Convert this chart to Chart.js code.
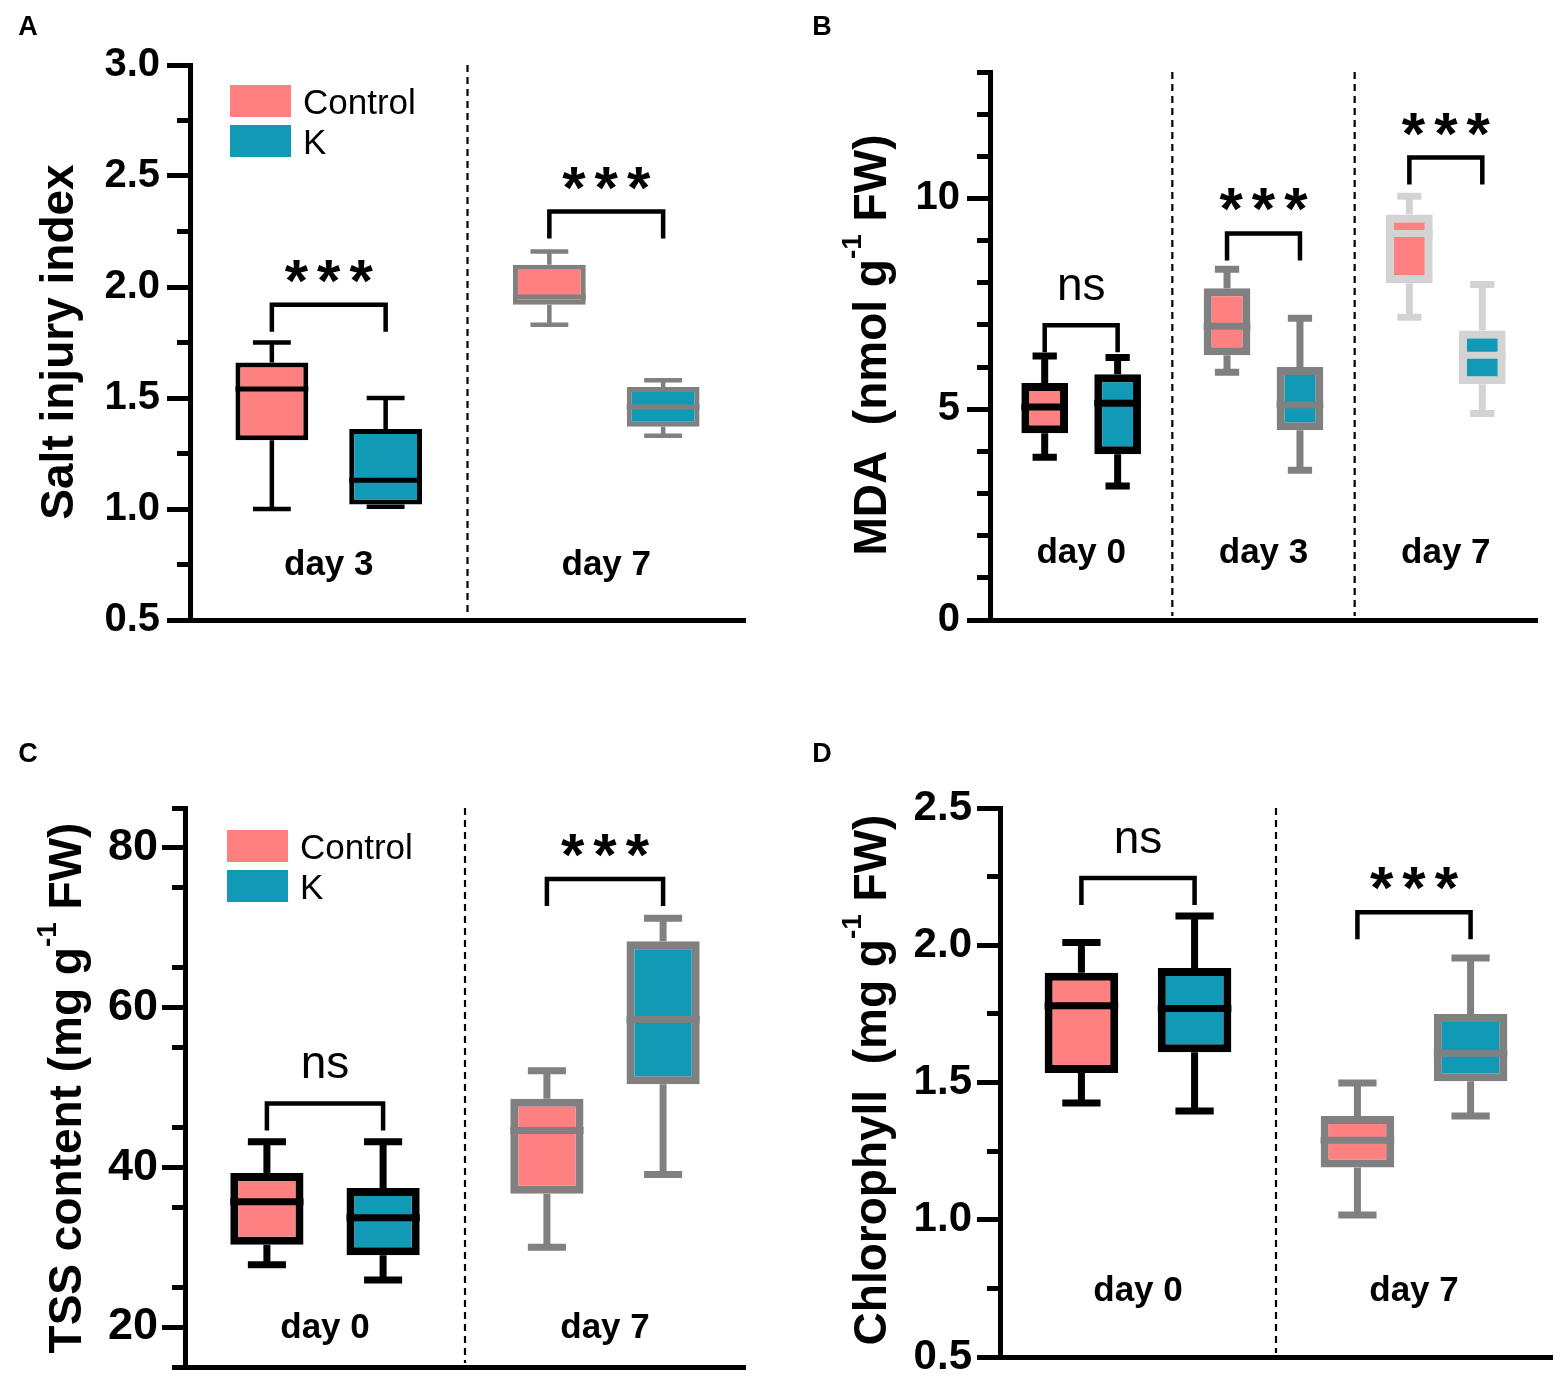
<!DOCTYPE html>
<html>
<head>
<meta charset="utf-8">
<script src="https://cdn.jsdelivr.net/npm/chart.js@4.4.0/dist/chart.umd.min.js"></script>
<style>
  body { margin: 0; background: #fff; width: 1562px; height: 1379px; position: relative; overflow: hidden; }
  canvas { position: absolute; }
</style>
</head>
<body>
<canvas id="cA" width="781" height="690" style="left:0;top:0"></canvas>
<canvas id="cB" width="781" height="690" style="left:781px;top:0"></canvas>
<canvas id="cC" width="781" height="720" style="left:0;top:690px"></canvas>
<canvas id="cD" width="781" height="720" style="left:781px;top:690px"></canvas>
<script>
// series shared by all four panels
const seriesNames = ['Control', 'K'];
const seriesFills = ['#FF8080', '#1199B5'];

// each box: [min, q1, median, q3, max]
const daysA = ['day 3', 'day 7'];
const controlA = [[1.00, 1.31, 1.54, 1.66, 1.75], [1.83, 1.92, 1.955, 2.10, 2.16]];
const kA = [[1.01, 1.02, 1.13, 1.36, 1.50], [1.33, 1.37, 1.46, 1.55, 1.58]];
const sigA = ['***', '***'];
const bracketA = [1.92, 2.34];

const daysB = ['day 0', 'day 3', 'day 7'];
const controlB = [[3.86, 4.43, 5.05, 5.62, 6.26], [5.88, 6.28, 6.97, 7.87, 8.32], [7.18, 7.99, 9.17, 9.62, 10.05]];
const kB = [[3.18, 3.93, 5.14, 5.83, 6.23], [3.55, 4.50, 5.10, 6.00, 7.16], [4.90, 5.59, 6.28, 6.87, 7.96]];
const sigB = ['ns', '***', '***'];
const bracketB = [6.99, 9.17, 10.97];

const daysC = ['day 0', 'day 7'];
const controlC = [[27.8, 30.3, 35.7, 39.3, 43.2], [30.0, 36.7, 44.6, 48.6, 52.1]];
const kC = [[25.9, 29.0, 33.7, 37.4, 43.2], [39.1, 50.4, 58.5, 68.3, 71.2]];
const sigC = ['ns', '***'];
const bracketC = [48.0, 76.1];

const daysD = ['day 0', 'day 7'];
const controlD = [[1.425, 1.535, 1.78, 1.90, 2.01], [1.017, 1.19, 1.29, 1.378, 1.498]];
const kD = [[1.396, 1.61, 1.77, 1.917, 2.107], [1.378, 1.505, 1.607, 1.75, 1.954]];
const sigD = ['ns', '***'];
const bracketD = [2.245, 2.12];

Chart.defaults.font.family = '"Liberation Sans", Arial, sans-serif';
Chart.defaults.color = '#000';

const FONT = '"Liberation Sans", Arial, sans-serif';

// whiskers, medians, separators, brackets, legend, titles
const boxPlot = {
  id: 'boxPlot',
  beforeDatasetsDraw(chart, args, o) {
    const ctx = chart.ctx, ys = chart.scales.y, xs = chart.scales.x, area = chart.chartArea;
    ctx.save();
    // dashed separators between days
    ctx.strokeStyle = '#000';
    ctx.lineWidth = 2.2;
    ctx.setLineDash([7, 5]);
    for (let i = 0; i < chart.data.labels.length - 1; i++) {
      const x = (xs.getPixelForValue(i) + xs.getPixelForValue(i + 1)) / 2;
      ctx.beginPath();
      ctx.moveTo(x, area.top);
      ctx.lineTo(x, area.bottom - 4);
      ctx.stroke();
    }
    ctx.setLineDash([]);
    // whiskers
    ctx.lineCap = 'butt';
    chart.data.datasets.forEach((ds, d) => {
      chart.getDatasetMeta(d).data.forEach((bar, i) => {
        const s = o.stats[d][i];
        const cap = bar.width * 0.52;
        const yMin = ys.getPixelForValue(s[0]), yQ1 = ys.getPixelForValue(s[1]);
        const yQ3 = ys.getPixelForValue(s[3]), yMax = ys.getPixelForValue(s[4]);
        ctx.strokeStyle = o.lineColors[i];
        ctx.lineWidth = o.whisker;
        ctx.beginPath();
        ctx.moveTo(bar.x, yQ3); ctx.lineTo(bar.x, yMax);
        ctx.moveTo(bar.x, yQ1); ctx.lineTo(bar.x, yMin);
        ctx.moveTo(bar.x - cap / 2, yMax); ctx.lineTo(bar.x + cap / 2, yMax);
        ctx.moveTo(bar.x - cap / 2, yMin); ctx.lineTo(bar.x + cap / 2, yMin);
        ctx.stroke();
      });
    });
    ctx.restore();
  },
  afterDatasetsDraw(chart, args, o) {
    const ctx = chart.ctx, ys = chart.scales.y;
    ctx.save();
    chart.data.datasets.forEach((ds, d) => {
      chart.getDatasetMeta(d).data.forEach((bar, i) => {
        const y = ys.getPixelForValue(o.stats[d][i][2]);
        ctx.strokeStyle = o.lineColors[i];
        ctx.lineWidth = o.median;
        ctx.beginPath();
        ctx.moveTo(bar.x - bar.width / 2, y);
        ctx.lineTo(bar.x + bar.width / 2, y);
        ctx.stroke();
      });
    });
    ctx.restore();
  },
  afterDraw(chart, args, o) {
    const ctx = chart.ctx, ys = chart.scales.y;
    const m0 = chart.getDatasetMeta(0).data, m1 = chart.getDatasetMeta(1).data;
    ctx.save();
    // significance brackets
    ctx.strokeStyle = '#000';
    ctx.fillStyle = '#000';
    ctx.lineWidth = 4.5;
    ctx.lineJoin = 'miter';
    ctx.textAlign = 'center';
    ctx.textBaseline = 'alphabetic';
    o.sig.forEach((txt, i) => {
      const xl = m0[i].x, xr = m1[i].x, y = ys.getPixelForValue(o.bracket[i]);
      ctx.beginPath();
      ctx.moveTo(xl, y + 27); ctx.lineTo(xl, y); ctx.lineTo(xr, y); ctx.lineTo(xr, y + 27);
      ctx.stroke();
      const cy = y - 37;
      if (txt === 'ns') {
        ctx.font = '46px ' + FONT;
        ctx.letterSpacing = '0px';
        ctx.fillText(txt, (xl + xr) / 2, cy + 12);
      } else {
        ctx.font = 'bold 60px ' + FONT;
        ctx.letterSpacing = '9px';
        ctx.fillText(txt, (xl + xr) / 2 + 4.5, cy + 33);
      }
    });
    ctx.letterSpacing = '0px';
    // legend inside plot
    if (o.legend) {
      ctx.font = '35px ' + FONT;
      ctx.textAlign = 'left';
      ctx.textBaseline = 'middle';
      chart.data.datasets.forEach((ds, d) => {
        const y = o.legend[1] + d * 40;
        ctx.fillStyle = ds.backgroundColor;
        ctx.fillRect(o.legend[0], y, 61, 32);
        ctx.fillStyle = '#000';
        ctx.fillText(ds.label, o.legend[0] + 73, y + 19);
      });
    }
    // y axis title with superscript parts
    const size = 46;
    ctx.translate(o.titlePos[0], o.titlePos[1]);
    ctx.rotate(-Math.PI / 2);
    ctx.textAlign = 'left';
    ctx.textBaseline = 'middle';
    ctx.fillStyle = '#000';
    const fontFor = sup => 'bold ' + (sup ? Math.round(size * 0.6) : size) + 'px ' + FONT;
    let total = 0;
    o.title.forEach(([t, sup]) => { ctx.font = fontFor(sup); total += ctx.measureText(t).width; });
    let x = -total / 2;
    o.title.forEach(([t, sup]) => {
      ctx.font = fontFor(sup);
      ctx.fillText(t, x, sup ? -size * 0.42 : 0);
      x += ctx.measureText(t).width;
    });
    ctx.setTransform(1, 0, 0, 1, 0, 0);
    // panel letter
    ctx.font = 'bold 27px ' + FONT;
    ctx.textAlign = 'center';
    ctx.fillText(o.letter, o.letterPos[0], o.letterPos[1]);
    ctx.restore();
  }
};

function makePanel(id, p) {
  const canvas = document.getElementById(id);
  const W = canvas.width, H = canvas.height;
  const a = p.area;
  return new Chart(canvas, {
    type: 'bar',
    data: {
      labels: p.days,
      datasets: seriesNames.map((name, d) => ({
        label: name,
        data: p.stats[d].map(s => [s[1], s[3]]),
        backgroundColor: seriesFills[d],
        borderColor: p.lineColors,
        borderWidth: p.border,
        borderSkipped: false,
        barPercentage: p.barPct,
        categoryPercentage: p.catPct
      }))
    },
    options: {
      responsive: false,
      animation: false,
      layout: { padding: { left: 0, top: a.top, right: W - a.right, bottom: 0 } },
      plugins: {
        legend: { display: false },
        tooltip: { enabled: false },
        boxPlot: {
          stats: p.stats, lineColors: p.lineColors, whisker: p.whisker, median: p.median,
          sig: p.sig, bracket: p.bracket, legend: p.legend, title: p.title,
          titlePos: p.titlePos, letter: p.letter, letterPos: p.letterPos
        }
      },
      scales: {
        x: {
          type: 'category',
          grid: { display: false, drawTicks: false },
          border: { display: true, width: 5, color: '#000' },
          // mirrored: day labels sit inside the plot, above the axis
          ticks: { mirror: true, font: { size: 35, weight: 'bold' }, padding: p.dayPad, color: '#000' },
          afterFit: s => { s.height = H - a.bottom; }
        },
        y: {
          type: 'linear', position: 'left', weight: 1,
          min: p.y.min, max: p.y.max,
          grid: { drawOnChartArea: false, tickLength: 23, tickWidth: 5, tickColor: '#000' },
          border: { width: 5, color: '#000' },
          ticks: {
            stepSize: p.y.step, includeBounds: false, padding: p.y.pad, color: '#000',
            font: { size: p.y.font, weight: 'bold' },
            callback: v => v.toFixed(p.y.decimals)
          },
          afterFit: s => { s.width = a.left; }
        },
        yMinor: {
          type: 'linear', position: 'left', weight: 0,
          min: p.y.min, max: p.y.max,
          grid: { drawOnChartArea: false, tickLength: 13, tickWidth: 5, tickColor: '#000' },
          border: { display: false },
          ticks: { stepSize: p.y.minor, includeBounds: false, display: false },
          afterFit: s => { s.width = 0; }
        }
      }
    },
    plugins: [boxPlot]
  });
}

makePanel('cA', {
  days: daysA, stats: [controlA, kA], sig: sigA, bracket: bracketA,
  area: { left: 190, top: 65, right: 745, bottom: 620 },
  y: { min: 0.5, max: 3.0, step: 0.5, minor: 0.25, decimals: 1, font: 40, pad: 7 },
  lineColors: ['#000000', '#808080'], border: 5, whisker: 4.5, median: 5,
  catPct: 0.82, barPct: 0.64, dayPad: 34,
  legend: [230, 85],
  title: [['Salt injury index', false]], titlePos: [60, 342],
  letter: 'A', letterPos: [28, 28]
});

makePanel('cB', {
  days: daysB, stats: [controlB, kB], sig: sigB, bracket: bracketB,
  area: { left: 209, top: 72, right: 756, bottom: 620 },
  y: { min: 0, max: 13, step: 5, minor: 1, decimals: 0, font: 40, pad: 7 },
  lineColors: ['#000000', '#808080', '#D3D3D3'], border: 8, whisker: 7, median: 7,
  catPct: 0.80, barPct: 0.64, dayPad: 46,
  legend: null,
  title: [['MDA  (nmol g', false], ['-1', true], [' FW)', false]], titlePos: [92, 345],
  letter: 'B', letterPos: [41, 28]
});

makePanel('cC', {
  days: daysC, stats: [controlC, kC], sig: sigC, bracket: bracketC,
  area: { left: 185, top: 118, right: 745, bottom: 677 },
  y: { min: 15, max: 85, step: 20, minor: 10, decimals: 0, font: 45, pad: 4 },
  lineColors: ['#000000', '#808080'], border: 8, whisker: 7, median: 7,
  catPct: 0.83, barPct: 0.63, dayPad: 18,
  legend: [227, 140],
  title: [['TSS content (mg g', false], ['-1', true], [' FW)', false]], titlePos: [68, 398],
  letter: 'C', letterPos: [28, 65]
});

makePanel('cD', {
  days: daysD, stats: [controlD, kD], sig: sigD, bracket: bracketD,
  area: { left: 219, top: 118, right: 771, bottom: 667 },
  y: { min: 0.5, max: 2.5, step: 0.5, minor: 0.25, decimals: 1, font: 42, pad: 5 },
  lineColors: ['#000000', '#808080'], border: 8, whisker: 7, median: 7,
  catPct: 0.82, barPct: 0.65, dayPad: 45,
  legend: null,
  title: [['Chlorophyll  (mg g', false], ['-1', true], [' FW)', false]], titlePos: [92, 390],
  letter: 'D', letterPos: [41, 65]
});
</script>
</body>
</html>
